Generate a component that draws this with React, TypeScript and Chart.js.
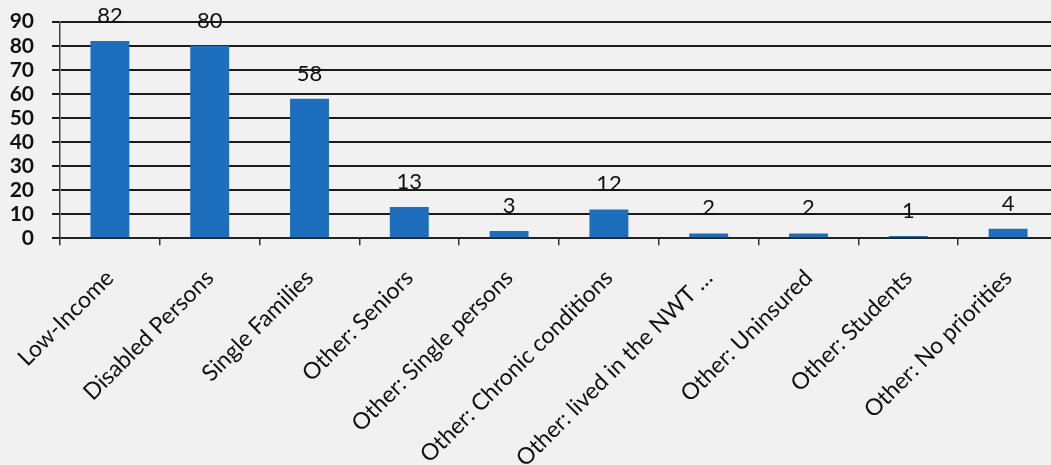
import React, { useEffect, useRef } from "react";
import { Chart, registerables } from "chart.js";

Chart.register(...registerables);

const categories = [
  "Low-Income",
  "Disabled Persons",
  "Single Families",
  "Other: Seniors",
  "Other: Single persons",
  "Other: Chronic conditions",
  "Other: lived in the NWT …",
  "Other: Uninsured",
  "Other: Students",
  "Other: No priorities",
];
const counts = [82, 80, 58, 13, 3, 12, 2, 2, 1, 4];
const yMin = 0;
const yMax = 90;
const yStep = 10;

const valueLabels = {
  id: "valueLabels",
  afterDatasetsDraw(chart: any) {
    const ctx = chart.ctx;
    const meta = chart.getDatasetMeta(0);
    ctx.save();
    ctx.font = "22px Lato";
    ctx.fillStyle = "#111";
    ctx.textAlign = "center";
    ctx.textBaseline = "alphabetic";
    meta.data.forEach((el: any, i: number) => {
      ctx.fillText(String(counts[i]), el.x, el.y - 18);
    });
    ctx.restore();
  },
};

export default function App() {
  const ref = useRef<HTMLCanvasElement | null>(null);
  useEffect(() => {
    if (!ref.current) return;
    const chart = new Chart(ref.current, {
      type: "bar",
      data: {
        labels: categories,
        datasets: [
          {
            data: counts,
            backgroundColor: "#1d6fbe",
            borderWidth: 0,
            barPercentage: 0.39,
            categoryPercentage: 1,
          },
        ],
      },
      options: {
        responsive: false,
        animation: false,
        layout: { padding: { top: 21.7, right: 2, left: 0, bottom: 0 } },
        plugins: { legend: { display: false }, tooltip: { enabled: false } },
        scales: {
          x: {
            grid: {
              display: true,
              drawOnChartArea: false,
              drawTicks: true,
              tickLength: 7,
              color: "#333",
              lineWidth: 1.5,
              offset: true,
            },
            border: { display: true, color: "#222", width: 2 },
            ticks: {
              autoSkip: false,
              maxRotation: 45,
              minRotation: 45,
              padding: 19,
              color: "#111",
              font: { family: "Lato", size: 23 },
            },
            afterFit(scale: any) {
              scale.height = 465 - 238.3;
              scale.paddingLeft = 0;
              scale.paddingRight = 0;
            },
          },
          y: {
            min: yMin,
            max: yMax,
            grid: {
              color: "#1a1a1a",
              lineWidth: 2,
              tickLength: 8,
              drawTicks: true,
            },
            border: { display: true, color: "#444", width: 1.5 },
            ticks: {
              stepSize: yStep,
              autoSkip: false,
              padding: 18,
              color: "#111",
              font: { family: "Lato", size: 21, weight: "bold" },
            },
            afterFit(scale: any) {
              scale.width = 60;
              scale.paddingTop = 0;
              scale.paddingBottom = 0;
            },
          },
        },
      },
      plugins: [valueLabels],
    });
    return () => chart.destroy();
  }, []);
  return (
    <div
      style={{
        position: "absolute",
        left: 0,
        top: 0,
        width: 1051,
        height: 465,
        overflow: "hidden",
        background: "#f1f1f1",
      }}
    >
      <canvas ref={ref} width={1060} height={465} style={{ display: "block" }} />
    </div>
  );
}
